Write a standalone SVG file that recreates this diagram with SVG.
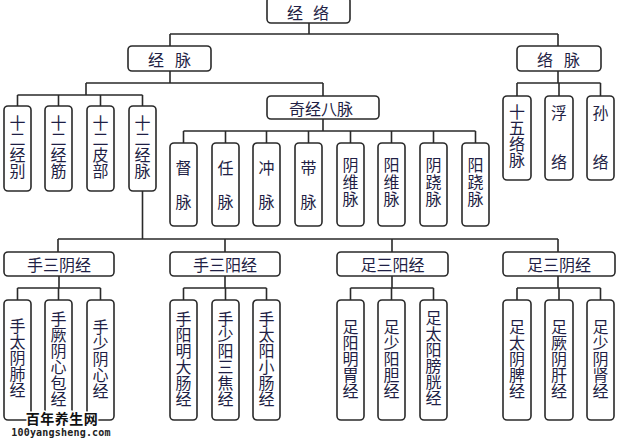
<svg xmlns="http://www.w3.org/2000/svg" width="619" height="445" viewBox="0 0 619 445">
<style>
.b{fill:#fff;stroke:#2a2a2a;stroke-width:1.6}
.t{font-family:"Noto Sans CJK SC","Noto Sans",sans-serif;font-size:16px;fill:#1f1f45;text-anchor:middle;dominant-baseline:central}
.v{font-family:"Noto Sans CJK SC","Noto Sans",sans-serif;font-size:16px;fill:#1f1f45;text-anchor:middle;writing-mode:vertical-rl}
.c{fill:none;stroke:#2a2a2a;stroke-width:1.6}
.wm{font-family:"Noto Sans CJK SC",sans-serif;font-weight:bold;font-size:14px;fill:#111;text-anchor:middle;dominant-baseline:central;stroke:#fff;stroke-width:3;paint-order:stroke}
.wu{font-family:"DejaVu Sans Mono",monospace;font-weight:bold;font-size:10px;fill:#222;text-anchor:middle;dominant-baseline:central}
</style>
<rect width="619" height="445" fill="#fff"/>
<g id="connectors" class="c">
<path d="M309,23V34M170,34H558M170,34V46M558,34V46"/>
<path d="M170,71V83M86,83H323M323,83V96M86,83V95M17.5,95H142.5M17.5,95V106M58.5,95V106M100.5,95V106M142.5,95V106"/>
<path d="M323,119V131M183.5,131H475.5M183.5,131V143M225.5,131V143M266.5,131V143M308.5,131V143M350.5,131V143M391.5,131V143M433.5,131V143M475.5,131V143"/>
<path d="M558,71V83M517,83H600.5M517,83V96M559,83V96M600.5,83V96"/>
<path d="M142.5,191V239M58,239H558M58,239V252M225,239V252M392,239V252M558,239V252"/>
<path d="M59,276V288M17.5,288H100.5M17.5,288V300M58.5,288V300M100.5,288V300"/>
<path d="M225,276V288M183.5,288H266.5M183.5,288V300M225.5,288V300M266.5,288V300"/>
<path d="M392,276V288M350.5,288H433.5M350.5,288V300M391.5,288V300M433.5,288V300"/>
<path d="M558,276V288M517,288H600.5M517,288V300M559,288V300M600.5,288V300"/>
</g>
<g id="jingluo"><rect class="b" x="267" y="-3" width="83" height="26" rx="4"/><text class="t" x="295 321" y="12">经络</text></g>
<g id="jingmai"><rect class="b" x="128" y="46" width="83" height="25" rx="4"/><text class="t" x="156 183" y="59">经脉</text></g>
<g id="luomai"><rect class="b" x="517" y="46" width="84" height="25" rx="4"/><text class="t" x="545 572" y="59">络脉</text></g>
<g id="n12jingbie"><rect class="b" x="4" y="106" width="27" height="85" rx="4"/><text class="v" x="17.5" y="147">十二经别</text></g>
<g id="n12jingjin"><rect class="b" x="45" y="106" width="27" height="85" rx="4"/><text class="v" x="58.5" y="147">十二经筋</text></g>
<g id="n12pibu"><rect class="b" x="87" y="106" width="27" height="85" rx="4"/><text class="v" x="100.5" y="147">十二皮部</text></g>
<g id="n12jingmai"><rect class="b" x="129" y="106" width="27" height="85" rx="4"/><text class="v" x="142.5" y="147">十二经脉</text></g>
<g id="qijingbamai"><rect class="b" x="267" y="96" width="112" height="23" rx="4"/><text class="t" x="321" y="108">奇经八脉</text></g>
<g id="dumai"><rect class="b" x="170" y="143" width="27" height="83" rx="4"/><text class="v" x="183.5" y="194" letter-spacing="18">督脉</text></g>
<g id="renmai"><rect class="b" x="212" y="143" width="27" height="83" rx="4"/><text class="v" x="225.5" y="194" letter-spacing="18">任脉</text></g>
<g id="chongmai"><rect class="b" x="253" y="143" width="27" height="83" rx="4"/><text class="v" x="266.5" y="194" letter-spacing="18">冲脉</text></g>
<g id="daimai"><rect class="b" x="295" y="143" width="27" height="83" rx="4"/><text class="v" x="308.5" y="194" letter-spacing="18">带脉</text></g>
<g id="yinweimai"><rect class="b" x="337" y="143" width="27" height="83" rx="4"/><text class="v" x="350.5" y="182.5" letter-spacing="1">阴维脉</text></g>
<g id="yangweimai"><rect class="b" x="378" y="143" width="27" height="83" rx="4"/><text class="v" x="391.5" y="182.5" letter-spacing="1">阳维脉</text></g>
<g id="yinqiaomai"><rect class="b" x="420" y="143" width="27" height="83" rx="4"/><text class="v" x="433.5" y="182.5" letter-spacing="1">阴跷脉</text></g>
<g id="yangqiaomai"><rect class="b" x="462" y="143" width="27" height="83" rx="4"/><text class="v" x="475.5" y="182.5" letter-spacing="1">阳跷脉</text></g>
<g id="shiwuluomai"><rect class="b" x="503" y="96" width="28" height="84" rx="4"/><text class="v" x="517" y="136">十五络脉</text></g>
<g id="fuluo"><rect class="b" x="545" y="96" width="28" height="84" rx="4"/><text class="v" x="559" y="154" letter-spacing="33">浮络</text></g>
<g id="sunluo"><rect class="b" x="587" y="96" width="27" height="84" rx="4"/><text class="v" x="600.5" y="154" letter-spacing="33">孙络</text></g>
<g id="shousanyin"><rect class="b" x="4" y="252" width="110" height="24" rx="4"/><text class="t" x="59" y="264">手三阴经</text></g>
<g id="shousanyang"><rect class="b" x="170" y="252" width="110" height="24" rx="4"/><text class="t" x="225" y="264">手三阳经</text></g>
<g id="zusanyang"><rect class="b" x="337" y="252" width="111" height="24" rx="4"/><text class="t" x="392.5" y="264">足三阳经</text></g>
<g id="zusanyin"><rect class="b" x="503" y="252" width="112" height="24" rx="4"/><text class="t" x="559" y="264">足三阴经</text></g>
<g id="lung"><rect class="b" x="4" y="300" width="27" height="120" rx="4"/><text class="v" x="17.5" y="358">手太阴肺经</text></g>
<g id="pericardium"><rect class="b" x="45" y="300" width="27" height="120" rx="4"/><text class="v" x="58.5" y="359">手厥阴心包经</text></g>
<g id="heart"><rect class="b" x="87" y="300" width="27" height="120" rx="4"/><text class="v" x="100.5" y="359">手少阴心经</text></g>
<g id="largeintestine"><rect class="b" x="170" y="300" width="27" height="120" rx="4"/><text class="v" x="183.5" y="359">手阳明大肠经</text></g>
<g id="sanjiao"><rect class="b" x="212" y="300" width="27" height="120" rx="4"/><text class="v" x="225.5" y="359">手少阳三焦经</text></g>
<g id="smallintestine"><rect class="b" x="253" y="300" width="27" height="120" rx="4"/><text class="v" x="266.5" y="359">手太阳小肠经</text></g>
<g id="stomach"><rect class="b" x="337" y="300" width="27" height="120" rx="4"/><text class="v" x="350.5" y="359">足阳明胃经</text></g>
<g id="gallbladder"><rect class="b" x="378" y="300" width="27" height="120" rx="4"/><text class="v" x="391.5" y="359">足少阳胆经</text></g>
<g id="bladder"><rect class="b" x="420" y="300" width="27" height="120" rx="4"/><text class="v" x="433.5" y="358">足太阳膀胱经</text></g>
<g id="spleen"><rect class="b" x="503" y="300" width="28" height="120" rx="4"/><text class="v" x="517" y="359">足太阴脾经</text></g>
<g id="liver"><rect class="b" x="545" y="300" width="28" height="120" rx="4"/><text class="v" x="559" y="359">足厥阴肝经</text></g>
<g id="kidney"><rect class="b" x="587" y="300" width="27" height="120" rx="4"/><text class="v" x="600.5" y="359">足少阴肾经</text></g>
<g id="watermark">
<text class="wm" x="62" y="418" letter-spacing="0.5">百年养生网</text>
<text class="wu" x="61" y="432" letter-spacing="0.2">100yangsheng.com</text>
</g>
</svg>
